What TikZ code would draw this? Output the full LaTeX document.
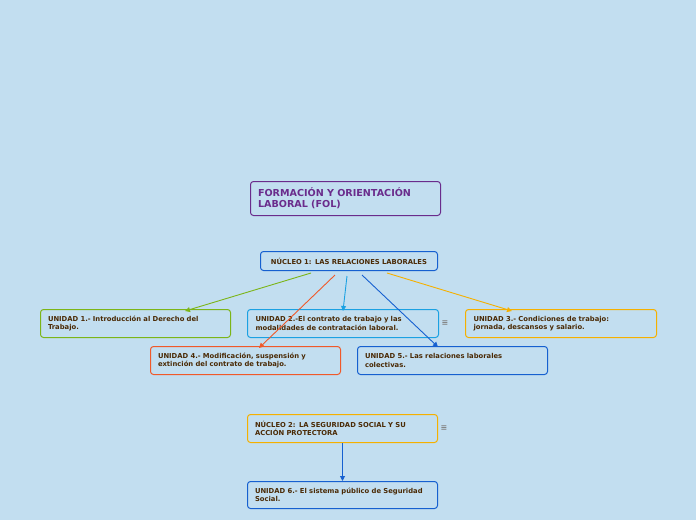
\documentclass[tikz,border=0pt]{standalone}
\usepackage{fontspec}
\setmainfont{DejaVu Sans}
\usetikzlibrary{calc,arrows.meta}
\hyphenpenalty=10000
\exhyphenpenalty=10000
\definecolor{bg}{HTML}{C2DEF0}
\definecolor{txt}{HTML}{4A2A05}
\definecolor{cpur}{HTML}{6A2C8C}
\definecolor{cgreen}{HTML}{7CB518}
\definecolor{ccyan}{HTML}{1BA1E2}
\definecolor{corange}{HTML}{F5B000}
\definecolor{cred}{HTML}{F0592A}
\definecolor{cblue}{HTML}{1660D0}
\tikzset{
 box/.style={draw=#1, line width=1pt, rounded corners=3pt, anchor=north west, fill=bg,
   minimum width=190pt, minimum height=28pt, text width=175pt, align=left, inner xsep=7pt,
   font=\bfseries\fontsize{6.8}{8.6}\selectfont, text=txt},
 arr/.style={draw=#1, line width=0.9pt, -{Triangle[length=5pt,width=5pt]}},
 menu/.style={font=\bfseries\fontsize{8}{8}\selectfont, text=gray}
}
\begin{document}
\begin{tikzpicture}[x=1pt,y=-1pt]
\fill[bg] (0,0) rectangle (696,520);
\useasboundingbox (0,0) rectangle (696,520);
\node[box=cpur, minimum width=190pt, minimum height=34pt, text=cpur, font=\bfseries\fontsize{9.6}{11.3}\selectfont] (t) at (250,181) {FORMACIÓN Y ORIENTACIÓN\\LABORAL (FOL)};
\node[box=cblue, minimum width=177pt, minimum height=19pt, text width=163pt, align=center] (n1) at (260,251) {NÚCLEO 1: LAS RELACIONES LABORALES};
\node[box=cgreen] (u1) at (40,309) {UNIDAD 1.- Introducción al Derecho del Trabajo.};
\node[box=ccyan, minimum width=191pt] (u2) at (247,309) {UNIDAD 2.-El contrato de trabajo y las modalidades de contratación laboral.};
\node[box=corange, minimum width=191pt] (u3) at (465,309) {UNIDAD 3.- Condiciones de trabajo:\\jornada, descansos y salario.};
\node[box=cred] (u4) at (150,346) {UNIDAD 4.- Modificación, suspensión y extinción del contrato de trabajo.};
\node[box=cblue] (u5) at (357,346) {UNIDAD 5.- Las relaciones laborales colectivas.};
\node[box=corange] (n2) at (247,414) {NÚCLEO 2: LA SEGURIDAD SOCIAL Y SU ACCIÓN PROTECTORA};
\node[box=cblue, minimum height=27pt] (u6) at (247,481) {UNIDAD 6.- El sistema público de Seguridad Social.};
\node[menu] (m1) at (445,323) {≡};
\node[menu] (m2) at (444,428) {≡};
\draw[arr=cgreen] ($(n1.south west)+(51,2)$) -- ($(u1.north west)+(145,2)$);
\draw[arr=ccyan] ($(n1.south west)+(87,5)$) -- ($(u2.north west)+(96,2)$);
\draw[arr=corange] ($(n1.south west)+(127,2)$) -- ($(u3.north west)+(47,2)$);
\draw[arr=cred] ($(n1.south west)+(75,4)$) -- ($(u4.north west)+(109,2)$);
\draw[arr=cblue] ($(n1.south west)+(102,4)$) -- ($(u5.north west)+(81,1)$);
\draw[arr=cblue] (n2.south) -- (u6.north);
\end{tikzpicture}
\end{document}
